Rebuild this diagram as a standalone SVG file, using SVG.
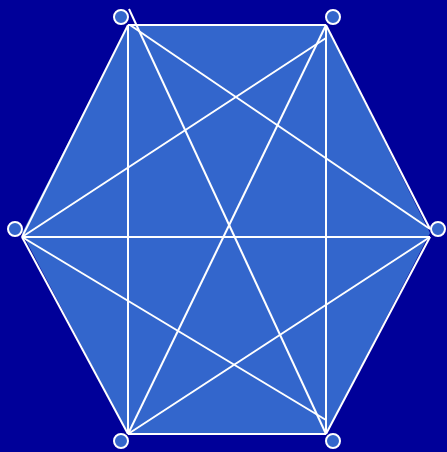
<svg xmlns="http://www.w3.org/2000/svg" width="447" height="452" viewBox="0 0 447 452">
<style>
.e{stroke:#fff;stroke-width:2;fill:none}
.n{fill:#3366cc;stroke:#fff;stroke-width:2}
</style>
<rect width="447" height="452" fill="#000099"/>
<polygon points="128,25 326,25 430,233 326,434 128,434 22,233" fill="#3366cc"/>
<g id="edges">
<line class="e" x1="128" y1="25" x2="326" y2="25"/>
<line class="e" x1="128" y1="25" x2="22" y2="237"/>
<line class="e" x1="128" y1="25" x2="128" y2="434"/>
<line class="e" x1="130" y1="25" x2="430" y2="229"/>
<line class="e" x1="129" y1="9" x2="326" y2="434"/>
<line class="e" x1="326" y1="38" x2="22" y2="237"/>
<line class="e" x1="326" y1="25" x2="430" y2="229"/>
<line class="e" x1="326" y1="25" x2="128" y2="434"/>
<line class="e" x1="326" y1="25" x2="326" y2="434"/>
<line class="e" x1="22" y1="237" x2="430" y2="237"/>
<line class="e" x1="22" y1="237" x2="128" y2="434"/>
<line class="e" x1="22" y1="237" x2="326" y2="420"/>
<line class="e" x1="430" y1="237" x2="128" y2="434"/>
<line class="e" x1="430" y1="237" x2="326" y2="434"/>
<line class="e" x1="128" y1="434" x2="326" y2="434"/>
</g>
<g id="n1"><circle class="n" cx="121" cy="17" r="7"/></g>
<g id="n2"><circle class="n" cx="333" cy="17" r="7"/></g>
<g id="n3"><circle class="n" cx="15" cy="229" r="7"/></g>
<g id="n4"><circle class="n" cx="438" cy="229" r="7"/></g>
<g id="n5"><circle class="n" cx="121" cy="441" r="7"/></g>
<g id="n6"><circle class="n" cx="333" cy="441" r="7"/></g>
</svg>
